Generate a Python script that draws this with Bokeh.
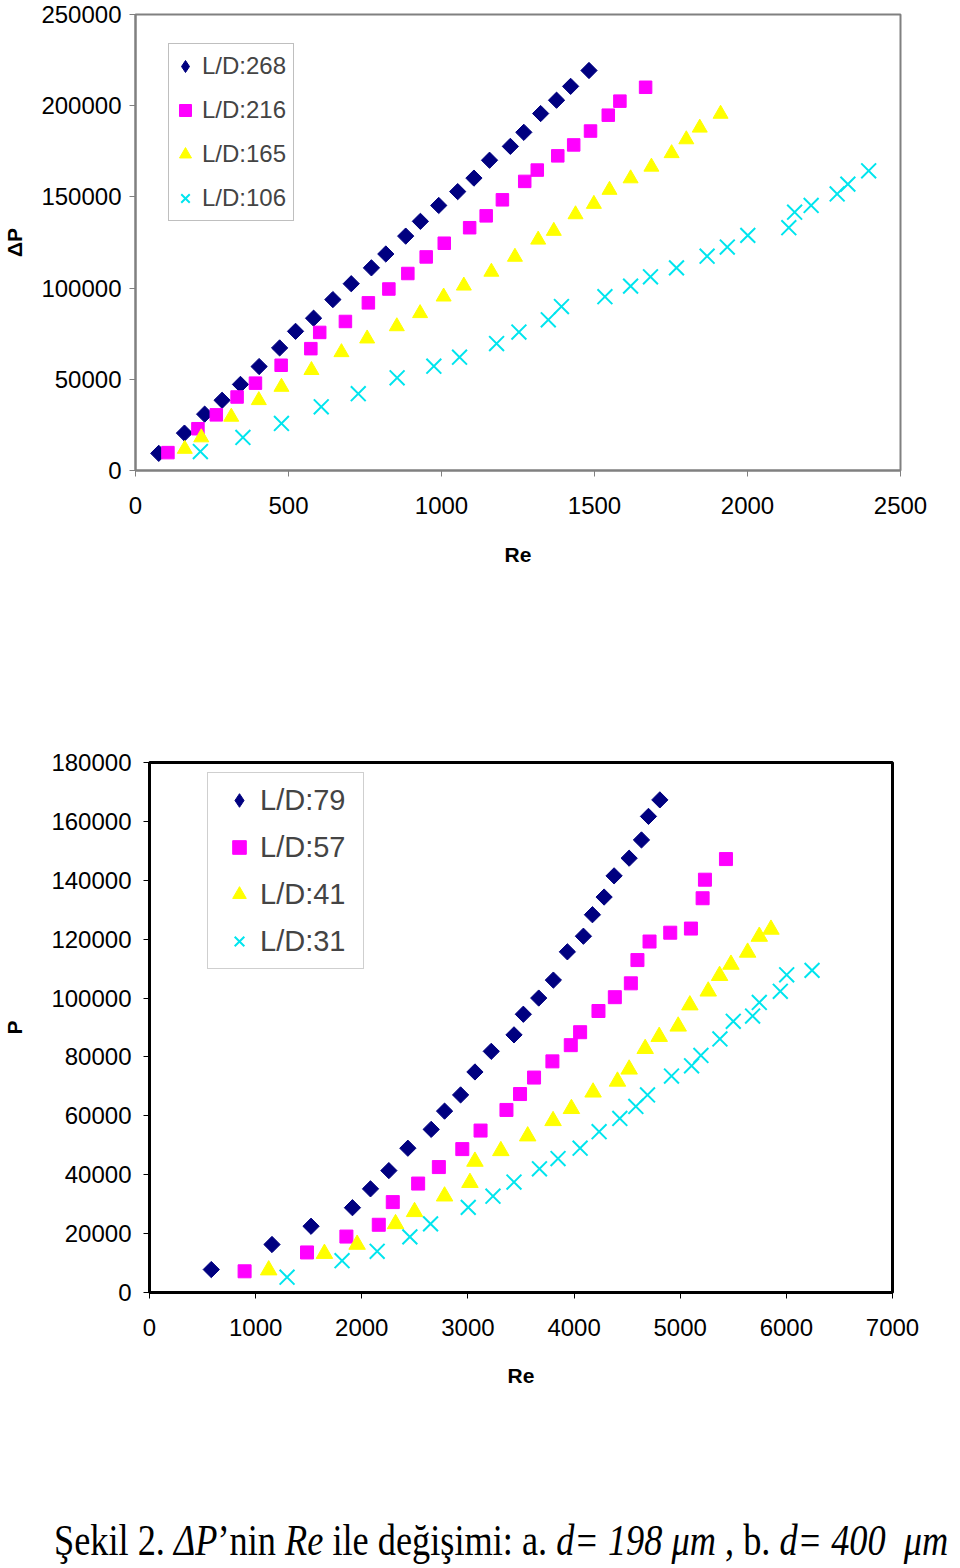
import math
from bokeh.plotting import figure
from bokeh.models import Range1d, FixedTicker, BasicTickFormatter, Legend, LegendItem, Div
from bokeh.embed import file_html
from bokeh.resources import INLINE

# ---------------- Chart a (d = 198 um) ----------------
re_268 = [76, 160, 226, 283, 343, 404, 471, 523, 582, 645, 705, 771, 818, 883, 931,
          991, 1053, 1106, 1157, 1225, 1269, 1324, 1376, 1422, 1482]
dp_268 = [9400, 20500, 30900, 38500, 47200, 57000, 67200, 76300, 83500, 93700, 102400,
          111100, 118700, 128500, 136600, 145300, 152900, 160300, 170100, 177700,
          185400, 195700, 203000, 210600, 219300]

re_216 = [106, 204, 264, 332, 392, 476, 573, 602, 686, 761, 828, 890, 950, 1009, 1092,
          1146, 1199, 1272, 1313, 1380, 1432, 1487, 1545, 1583, 1667]
dp_216 = [9800, 22900, 30500, 40300, 47900, 57700, 66800, 75700, 81700, 91900, 99500,
          108000, 117100, 124600, 133100, 139600, 148400, 158500, 164700, 172500,
          178500, 186100, 194800, 202500, 210100]

re_165 = [161, 215, 313, 403, 477, 575, 673, 757, 854, 930, 1007, 1073, 1163, 1240, 1316,
          1367, 1438, 1498, 1549, 1618, 1686, 1752, 1800, 1844, 1912]
dp_165 = [11800, 18100, 29400, 38500, 45800, 55000, 64800, 72300, 79000, 86200, 95300,
          101300, 108900, 117100, 126500, 131300, 140400, 146100, 153800, 160100,
          166500, 173900, 181500, 187900, 195500]

re_106 = [212, 351, 477, 607, 728, 855, 975, 1059, 1180, 1253, 1349, 1392, 1534, 1618,
          1683, 1768, 1868, 1934, 2001, 2135, 2154, 2208, 2293, 2328, 2396]
dp_106 = [10400, 18100, 25800, 34900, 42100, 50800, 57200, 62100, 69600, 75900, 82600,
          89900, 95300, 101100, 106200, 111100, 117500, 122500, 128900, 133100,
          141600, 145300, 151600, 157000, 164300]

labels_a = ["L/D:268", "L/D:216", "L/D:165", "L/D:106"]
xticks_a = [0, 500, 1000, 1500, 2000, 2500]
yticks_a = [0, 50000, 100000, 150000, 200000, 250000]

# ---------------- Chart b (d = 400 um) ----------------
re_79 = [582, 1154, 1522, 1912, 2082, 2255, 2434, 2654, 2780, 2931, 3066, 3220, 3434,
         3522, 3667, 3805, 3937, 4088, 4173, 4283, 4377, 4519, 4635, 4701, 4808]
p_79 = [7800, 16300, 22500, 28800, 35200, 41400, 49000, 55400, 61600, 67100, 74900,
        81900, 87500, 94500, 100000, 106100, 115700, 121000, 128300, 134300, 141500,
        147500, 153700, 161700, 167300]

re_57 = [896, 1484, 1855, 2160, 2292, 2531, 2726, 2947, 3119, 3363, 3491, 3623, 3796,
         3969, 4057, 4230, 4384, 4535, 4597, 4711, 4906, 5101, 5211, 5233, 5431]
p_57 = [7200, 13600, 19000, 23000, 30700, 37000, 42600, 48700, 55000, 62000, 67400,
        73000, 78500, 84000, 88400, 95600, 100300, 105000, 112900, 119200, 122200,
        123600, 133900, 140200, 147200]

re_41 = [1123, 1648, 1956, 2318, 2497, 2780, 3019, 3066, 3310, 3563, 3802, 3975, 4179,
         4409, 4519, 4670, 4802, 4981, 5091, 5264, 5371, 5478, 5635, 5745, 5855]
p_41 = [7600, 13200, 16300, 23300, 27400, 32700, 37300, 44500, 48100, 53100, 58300,
        62400, 68000, 71700, 75800, 82800, 86900, 90400, 97600, 102300, 107600,
        111400, 115500, 120900, 123300]

re_31 = [1296, 1814, 2145, 2453, 2648, 3003, 3236, 3434, 3674, 3849, 4057, 4236, 4431,
         4582, 4692, 4918, 5107, 5195, 5374, 5500, 5682, 5745, 5943, 6003, 6242]
p_31 = [5200, 10800, 14000, 18900, 23300, 28900, 32700, 37500, 42000, 45500, 49000,
        54600, 59100, 63200, 67100, 73500, 77000, 80500, 86100, 92100, 93900, 98500,
        102300, 107900, 109400]

labels_b = ["L/D:79", "L/D:57", "L/D:41", "L/D:31"]
xticks_b = [0, 1000, 2000, 3000, 4000, 5000, 6000, 7000]
yticks_b = [0, 20000, 40000, 60000, 80000, 100000, 120000, 140000, 160000, 180000]

NAVY, MAGENTA, YELLOW, CYAN = "#000080", "#FF00FF", "#FFFF00", "#00E5EE"
FONT = "Liberation Sans"
NAN = float("nan")


def style(p, color, lw, xstand, ystand, xlab_stand, ylab_stand):
    p.xgrid.visible = False
    p.ygrid.visible = False
    p.outline_line_color = color
    p.outline_line_width = lw
    p.background_fill_color = "white"
    p.border_fill_color = "white"
    for ax in (p.xaxis[0], p.yaxis[0]):
        ax.axis_line_color = color
        ax.axis_line_width = lw
        ax.major_tick_line_color = color
        ax.major_tick_line_width = 1
        ax.major_tick_out = 6
        ax.major_tick_in = 0
        ax.minor_tick_line_color = None
        ax.major_label_text_font = FONT
        ax.major_label_text_font_size = "24px"
        ax.major_label_text_color = "black"
        ax.axis_label_text_font = FONT
        ax.axis_label_text_font_style = "bold"
        ax.axis_label_text_font_size = "21px"
        ax.axis_label_text_line_height = 1.0
        ax.axis_label_text_color = "black"
        ax.formatter = BasicTickFormatter(use_scientific=False)
    p.xaxis[0].major_label_standoff = xstand
    p.yaxis[0].major_label_standoff = ystand
    p.xaxis[0].axis_label_standoff = xlab_stand
    p.yaxis[0].axis_label_standoff = ylab_stand


def legend_markers(p):
    # legend-only renderers (a single NaN point, never drawn in the plot area),
    # so that the legend can show a diamond for the rotated-square series
    d = p.scatter(x=[NAN], y=[NAN], marker="diamond", fill_color=NAVY, line_color=NAVY)
    s = p.scatter(x=[NAN], y=[NAN], marker="square", fill_color=MAGENTA, line_color=MAGENTA)
    t = p.scatter(x=[NAN], y=[NAN], marker="triangle", fill_color=YELLOW, line_color=YELLOW)
    x = p.scatter(x=[NAN], y=[NAN], marker="x", line_color=CYAN, line_width=2)
    return [d, s, t, x]


# ---------------- Figure a ----------------
p1 = figure(frame_width=765, frame_height=456, min_border_left=131, min_border_top=14,
            min_border_right=40, min_border_bottom=130,
            x_range=Range1d(0, 2500), y_range=Range1d(0, 250000),
            output_backend="svg", toolbar_location=None)
style(p1, "#808080", 2, 20, 8, 26, 12)
p1.xaxis[0].ticker = FixedTicker(ticks=xticks_a)
p1.yaxis[0].ticker = FixedTicker(ticks=yticks_a)
p1.xaxis[0].axis_label = "Re"
p1.yaxis[0].axis_label = "ΔP"

p1.scatter(re_268, dp_268, marker="square", angle=math.pi / 4, size=11.5,
           fill_color=NAVY, line_color=NAVY)
p1.scatter(re_216, dp_216, marker="square", size=12.5,
           fill_color=MAGENTA, line_color=MAGENTA)
p1.scatter(re_165, dp_165, marker="triangle", size=15,
           fill_color=YELLOW, line_color=YELLOW)
p1.scatter(re_106, dp_106, marker="x", size=21, line_color=CYAN, line_width=2)

lr1 = legend_markers(p1)
leg1 = Legend(items=[LegendItem(label=l, renderers=[r]) for l, r in zip(labels_a, lr1)],
              location=(33, 249), padding=1, glyph_width=30, glyph_height=42, spacing=2,
              label_standoff=2, label_width=90, label_height=28, margin=0,
              label_text_font=FONT, label_text_font_size="24px",
              border_line_color="#808080", border_line_width=1,
              background_fill_color="white", background_fill_alpha=1.0)
p1.add_layout(leg1)

# ---------------- Figure b ----------------
p2 = figure(frame_width=743, frame_height=530, min_border_left=140, min_border_top=162,
            min_border_right=45, min_border_bottom=108,
            x_range=Range1d(0, 7000), y_range=Range1d(0, 180000),
            output_backend="svg", toolbar_location=None)
style(p2, "black", 3, 20, 12, 25, 22)
p2.xaxis[0].ticker = FixedTicker(ticks=xticks_b)
p2.yaxis[0].ticker = FixedTicker(ticks=yticks_b)
p2.xaxis[0].axis_label = "Re"
p2.yaxis[0].axis_label = "P"

p2.scatter(re_79, p_79, marker="square", angle=math.pi / 4, size=11.5,
           fill_color=NAVY, line_color=NAVY)
p2.scatter(re_57, p_57, marker="square", size=13,
           fill_color=MAGENTA, line_color=MAGENTA)
p2.scatter(re_41, p_41, marker="triangle", size=16.5,
           fill_color=YELLOW, line_color=YELLOW)
p2.scatter(re_31, p_31, marker="x", size=21, line_color=CYAN, line_width=2)

lr2 = legend_markers(p2)
leg2 = Legend(items=[LegendItem(label=l, renderers=[r]) for l, r in zip(labels_b, lr2)],
              location=(58, 323), padding=10, glyph_width=42, glyph_height=34, spacing=13,
              label_standoff=0, label_width=93, label_height=34, margin=0,
              label_text_font=FONT, label_text_font_size="29px",
              border_line_color="#A0A0A0", border_line_width=1,
              background_fill_color="white", background_fill_alpha=1.0)
p2.add_layout(leg2)

# ---------------- Caption ----------------
caption_html = (
    '<div style="width:944px;height:160px;overflow:hidden;position:relative;">'
    '<div style="position:absolute;left:49px;top:111px;white-space:nowrap;'
    'font-family:\'Liberation Serif\';font-size:44px;line-height:49px;color:black;'
    'transform:scaleX(0.825);transform-origin:0 0;">'
    'Şekil 2. <i>ΔP</i>’nin <i>Re</i> ile değişimi: a. <i>d= 198 μm</i> , b. '
    '<i>d= 400 &nbsp;μm</i></div></div>'
)
cap = Div(text=caption_html, width=944, height=160, styles={"overflow": "hidden"})

# three separate roots, stacked vertically (keeps each plot frame where it belongs)
open("out.html", "w").write(file_html([p1, p2, cap], INLINE))
